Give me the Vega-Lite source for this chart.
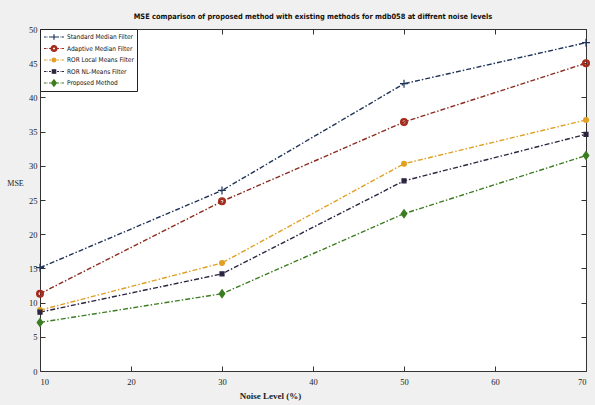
{
  "$schema": "https://vega.github.io/schema/vega-lite/v6.json",
  "width": 546,
  "height": 342,
  "autosize": {"type": "none"},
  "padding": {"left": 40, "top": 29, "right": 9, "bottom": 34},
  "background": "#f0f0f0",
  "title": {"text": "MSE comparison of proposed method with existing methods for mdb058 at diffrent noise levels", "font": "Liberation Sans Narrow, DejaVu Sans Condensed, sans-serif", "fontSize": 7.4, "fontWeight": "bold", "color": "#111", "anchor": "middle", "offset": 5},
  "config": {
    "view": {"fill": "white", "stroke": "#333", "strokeWidth": 1},
    "axis": {"grid": false, "domain": false, "labelFont": "Liberation Serif", "labelFontSize": 8.5, "labelColor": "#222", "tickColor": "#333", "titleFont": "Liberation Serif", "titleFontSize": 9, "titleFontWeight": "bold", "titleColor": "#222"}
  },
  "data": {"values": [
    {"series": "Standard Median Filter", "noise": 10, "mse": 15.1},
    {"series": "Standard Median Filter", "noise": 30, "mse": 26.4},
    {"series": "Standard Median Filter", "noise": 50, "mse": 42.0},
    {"series": "Standard Median Filter", "noise": 70, "mse": 48.0},
    {"series": "Adaptive Median Filter", "noise": 10, "mse": 11.3},
    {"series": "Adaptive Median Filter", "noise": 30, "mse": 24.8},
    {"series": "Adaptive Median Filter", "noise": 50, "mse": 36.4},
    {"series": "Adaptive Median Filter", "noise": 70, "mse": 45.0},
    {"series": "ROR Local Means Filter", "noise": 10, "mse": 8.9},
    {"series": "ROR Local Means Filter", "noise": 30, "mse": 15.8},
    {"series": "ROR Local Means Filter", "noise": 50, "mse": 30.3},
    {"series": "ROR Local Means Filter", "noise": 70, "mse": 36.7},
    {"series": "ROR NL-Means Filter", "noise": 10, "mse": 8.6},
    {"series": "ROR NL-Means Filter", "noise": 30, "mse": 14.2},
    {"series": "ROR NL-Means Filter", "noise": 50, "mse": 27.8},
    {"series": "ROR NL-Means Filter", "noise": 70, "mse": 34.6},
    {"series": "Proposed Method", "noise": 10, "mse": 7.1},
    {"series": "Proposed Method", "noise": 30, "mse": 11.3},
    {"series": "Proposed Method", "noise": 50, "mse": 23.0},
    {"series": "Proposed Method", "noise": 70, "mse": 31.5}
  ]},
  "resolve": {"scale": {"color": "independent", "stroke": "independent", "shape": "independent"}, "axis": {"x": "independent", "y": "independent"}},
  "layer": [
    {
      "mark": {"type": "line", "strokeWidth": 1.4, "strokeDash": [5, 2, 1.5, 2]},
      "encoding": {
        "x": {"field": "noise", "type": "quantitative", "scale": {"domain": [10, 70], "nice": false, "zero": false},
          "axis": {"orient": "bottom", "values": [10, 20, 30, 40, 50, 60, 70], "tickSize": -5, "labelPadding": 11, "title": "Noise Level (%)", "titleX": 230, "titleY": 24, "titleAlign": "center", "titleBaseline": "middle"}},
        "y": {"field": "mse", "type": "quantitative", "scale": {"domain": [0, 50], "nice": false},
          "axis": {"orient": "left", "values": [0, 5, 10, 15, 20, 25, 30, 35, 40, 45, 50], "tickSize": -5, "labelPadding": 8, "title": "MSE", "titleAngle": 0, "titleX": -25, "titleY": 154, "titleAlign": "center", "titleBaseline": "middle", "titleFontWeight": "normal", "titleFontSize": 8}},
        "color": {"field": "series", "type": "nominal", "legend": null,
          "scale": {"domain": ["Standard Median Filter", "Adaptive Median Filter", "ROR Local Means Filter", "ROR NL-Means Filter", "Proposed Method"], "range": ["#1f3458", "#8a2c1f", "#e0a023", "#2d2440", "#3d7d22"]}}
      }
    },
    {
      "mark": {"type": "point", "filled": true, "size": 64, "strokeWidth": 1.2, "opacity": 1},
      "encoding": {
        "x": {"field": "noise", "type": "quantitative", "axis": null},
        "y": {"field": "mse", "type": "quantitative", "axis": null},
        "color": {"field": "series", "type": "nominal", "legend": null,
          "scale": {"domain": ["Standard Median Filter", "Adaptive Median Filter", "ROR Local Means Filter", "ROR NL-Means Filter", "Proposed Method"], "range": ["#1f3458", "#a52a1c", "#e0a023", "#2d2440", "#3d7d22"]}},
        "stroke": {"field": "series", "type": "nominal", "legend": null,
          "scale": {"domain": ["Standard Median Filter", "Adaptive Median Filter", "ROR Local Means Filter", "ROR NL-Means Filter", "Proposed Method"], "range": ["#1f3458", "#a52a1c", "#e0a023", "#2d2440", "#3d7d22"]}},
        "shape": {"field": "series", "type": "nominal", "legend": null,
          "scale": {"domain": ["Standard Median Filter", "Adaptive Median Filter", "ROR Local Means Filter", "ROR NL-Means Filter", "Proposed Method"],
            "range": [
              "M-1,0H1M0,-1V1",
              "M0.85,0A0.85,0.85 0 1,1 -0.85,0A0.85,0.85 0 1,1 0.85,0ZM0.5,0A0.5,0.5 0 1,0 -0.5,0A0.5,0.5 0 1,0 0.5,0Z",
              "M0.6,0A0.6,0.6 0 1,1 -0.6,0A0.6,0.6 0 1,1 0.6,0Z",
              "M-0.5,-0.5H0.5V0.5H-0.5Z",
              "M0,-1L0.7,0L0,1L-0.7,0Z"
            ]}}
      }
    },
    {
      "mark": {"type": "point", "filled": true, "size": 64, "strokeWidth": 1.2, "opacity": 0},
      "encoding": {
        "x": {"field": "noise", "type": "quantitative", "axis": {"orient": "top", "values": [10, 20, 30, 40, 50, 60, 70], "tickSize": -5, "labels": false, "title": null}},
        "y": {"field": "mse", "type": "quantitative", "axis": {"orient": "right", "values": [0, 5, 10, 15, 20, 25, 30, 35, 40, 45, 50], "tickSize": -5, "labels": false, "title": null}},
        "color": {"field": "series", "type": "nominal",
          "scale": {"domain": ["Standard Median Filter", "Adaptive Median Filter", "ROR Local Means Filter", "ROR NL-Means Filter", "Proposed Method"], "range": ["#1f3458", "#a52a1c", "#e0a023", "#2d2440", "#3d7d22"]},
          "legend": {"title": null, "orient": "top-left", "offset": 0, "padding": 3, "fillColor": "white", "strokeColor": "#222", "labelFont": "Liberation Sans Narrow, DejaVu Sans Condensed, sans-serif", "labelFontSize": 6.5, "labelColor": "#111", "labelOffset": 2, "symbolSize": 400, "clipHeight": 10, "rowPadding": 1.5, "symbolOpacity": 1, "symbolStrokeWidth": 1.2}},
        "stroke": {"field": "series", "type": "nominal",
          "scale": {"domain": ["Standard Median Filter", "Adaptive Median Filter", "ROR Local Means Filter", "ROR NL-Means Filter", "Proposed Method"], "range": ["#1f3458", "#a52a1c", "#e0a023", "#2d2440", "#3d7d22"]},
          "legend": {"title": null, "orient": "top-left", "offset": 0, "padding": 3, "fillColor": "white", "strokeColor": "#222", "labelFont": "Liberation Sans Narrow, DejaVu Sans Condensed, sans-serif", "labelFontSize": 6.5, "labelColor": "#111", "labelOffset": 2, "symbolSize": 400, "clipHeight": 10, "rowPadding": 1.5, "symbolOpacity": 1, "symbolStrokeWidth": 1.2}},
        "shape": {"field": "series", "type": "nominal",
          "scale": {"domain": ["Standard Median Filter", "Adaptive Median Filter", "ROR Local Means Filter", "ROR NL-Means Filter", "Proposed Method"],
            "range": [
              "M-1,0H-0.75M-0.65,0H-0.6M-0.5,0H0.5M0.6,0H0.65M0.75,0H1M0,-0.28V0.28",
              "M-1,0H-0.75M-0.65,0H-0.6M-0.5,0H-0.3M0.3,0H0.5M0.6,0H0.65M0.75,0H1M0.3,0A0.3,0.3 0 1,1 -0.3,0A0.3,0.3 0 1,1 0.3,0ZM0.16,0A0.16,0.16 0 1,0 -0.16,0A0.16,0.16 0 1,0 0.16,0Z",
              "M-1,0H-0.75M-0.65,0H-0.6M-0.5,0H-0.3M0.3,0H0.5M0.6,0H0.65M0.75,0H1M0.2,0A0.2,0.2 0 1,1 -0.2,0A0.2,0.2 0 1,1 0.2,0Z",
              "M-1,0H-0.75M-0.65,0H-0.6M-0.5,0H-0.3M0.3,0H0.5M0.6,0H0.65M0.75,0H1M-0.17,-0.17H0.17V0.17H-0.17Z",
              "M-1,0H-0.75M-0.65,0H-0.6M-0.5,0H-0.3M0.3,0H0.5M0.6,0H0.65M0.75,0H1M0,-0.32L0.24,0L0,0.32L-0.24,0Z"
            ]},
          "legend": {"title": null, "orient": "top-left", "offset": 0, "padding": 3, "fillColor": "white", "strokeColor": "#222", "labelFont": "Liberation Sans Narrow, DejaVu Sans Condensed, sans-serif", "labelFontSize": 6.5, "labelColor": "#111", "labelOffset": 2, "symbolSize": 400, "clipHeight": 10, "rowPadding": 1.5, "symbolOpacity": 1, "symbolStrokeWidth": 1.2}}
      }
    }
  ]
}
